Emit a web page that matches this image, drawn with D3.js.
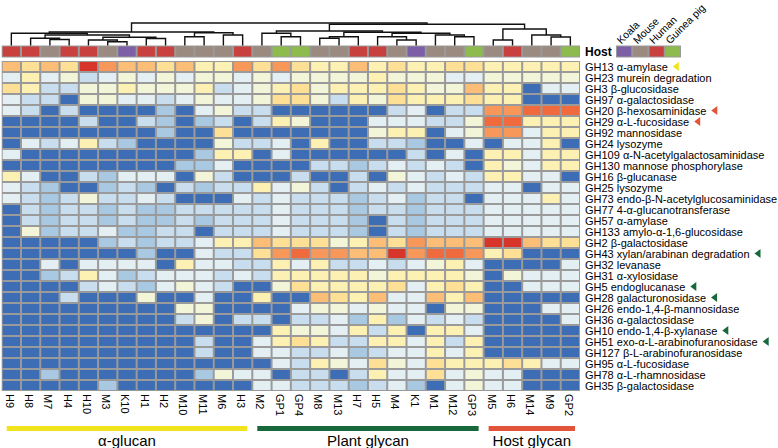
<!DOCTYPE html>
<html><head><meta charset="utf-8">
<script src="https://cdn.jsdelivr.net/npm/d3@7/dist/d3.min.js"></script>
<style>body{margin:0;background:#fff}svg{display:block}text{font-family:"Liberation Sans",Arial,sans-serif}</style>
</head><body><svg id="c" width="778" height="448"></svg>
<script>
const samples = ["H9","H8","M7","H4","H10","M3","K10","H1","H2","M10","M11","M6","H3","M2","GP1","GP4","M8","M13","H7","H5","M4","K1","M1","M12","GP3","M5","H6","M14","M9","GP2"];
const hosts = samples.map(s => s.startsWith("GP") ? "Guinea pig" : s[0]==="H" ? "Human" : s[0]==="M" ? "Mouse" : "Koala");
const hostNames = ["Koala","Mouse","Human","Guinea pig"];
const hostColors = ["#7d5fa8","#9b8a80","#c9413e","#8dbb4d"];
const families = ["GH13 α-amylase","GH23 murein degradation","GH3 β-glucosidase","GH97 α-galactosidase","GH20 β-hexosaminidase","GH29 α-L-fucosidase","GH92 mannosidase","GH24 lysozyme","GH109 α-N-acetylgalactosaminidase","GH130 mannose phosphorylase","GH16 β-glucanase","GH25 lysozyme","GH73 endo-β-N-acetylglucosaminidase","GH77 4-α-glucanotransferase","GH57 α-amylase","GH133 amylo-α-1,6-glucosidase","GH2 β-galactosidase","GH43 xylan/arabinan degradation","GH32 levanase","GH31 α-xylosidase","GH5 endoglucanase","GH28 galacturonosidase","GH26 endo-1,4-β-mannosidase","GH36 α-galactosidase","GH10 endo-1,4-β-xylanase","GH51 exo-α-L-arabinofuranosidase","GH127 β-L-arabinofuranosidase","GH95 α-L-fucosidase","GH78 α-L-rhamnosidase","GH35 β-galactosidase"];
const markers = {"GH13 α-amylase":"#f1e41c","GH20 β-hexosaminidase":"#e2543a","GH29 α-L-fucosidase":"#e2543a","GH43 xylan/arabinan degradation":"#17683a","GH5 endoglucanase":"#17683a","GH28 galacturonosidase":"#17683a","GH10 endo-1,4-β-xylanase":"#17683a","GH51 exo-α-L-arabinofuranosidase":"#17683a"};
// relative abundance level (0 = lowest ... 10 = highest)
const levels = [
[7,6,7,6,10,8,7,7,6,7,5,5, 8,6,8,6,5,5,7,5,6,5,5, 6,6,5,5,5,5,5],
[3,5,3,4,2,3,4,3,4,3,4,4, 3,4,3,4,4,4,4,5,4,4,4, 3,3,4,4,4,4,4],
[6,5,2,2,4,4,5,4,4,4,5,2, 3,4,5,6,4,5,5,5,6,5,4, 4,7,5,5,0,3,3],
[3,2,2,0,4,4,3,3,2,3,4,3, 3,4,6,6,4,2,5,4,6,5,5, 5,6,5,5,0,0,0],
[3,2,0,2,0,0,0,0,1,0,3,4, 2,2,0,0,0,0,0,0,2,3,0, 2,2,8,8,9,9,9],
[0,0,0,0,2,0,0,2,1,0,1,2, 0,2,5,4,0,0,0,3,3,3,2, 2,4,9,9,5,5,5],
[0,0,0,0,0,0,0,0,1,0,0,6, 0,0,0,0,0,0,0,4,5,5,0, 3,4,8,8,3,5,5],
[0,3,2,3,5,2,1,0,0,0,0,4, 2,2,3,0,5,0,0,2,2,1,0, 0,3,0,3,3,5,0],
[3,0,0,0,0,0,0,0,0,0,1,5, 5,0,3,0,0,0,0,0,0,2,0, 3,0,5,5,3,5,5],
[0,0,0,0,0,0,0,0,0,1,1,3, 0,0,0,0,2,2,1,2,3,2,3, 2,0,5,4,3,5,5],
[5,3,0,0,2,1,3,3,3,0,4,2, 0,0,0,2,0,0,2,0,4,3,2, 3,2,5,5,3,3,0],
[3,2,1,0,0,1,2,1,0,2,1,2, 2,5,3,4,2,0,2,3,2,3,2, 2,2,3,3,0,3,3],
[3,2,1,2,4,2,2,3,2,0,0,0, 3,2,3,2,2,2,1,2,3,1,2, 2,0,3,3,3,5,3],
[0,2,1,2,2,1,2,1,1,2,2,2, 2,2,3,2,2,2,1,2,2,1,2, 2,2,3,3,3,3,3],
[0,2,1,2,2,1,2,1,1,2,1,2, 2,2,3,2,2,2,1,0,2,1,2, 2,2,3,3,3,3,3],
[0,4,1,2,2,3,1,1,2,2,0,2, 2,2,3,2,2,2,1,0,2,1,2, 2,2,3,3,3,3,3],
[0,0,0,0,0,1,2,1,2,2,3,5, 5,7,6,6,6,4,5,7,6,8,7, 7,7,10,10,7,6,6],
[0,0,0,0,0,0,0,1,0,0,3,2, 2,6,8,9,8,8,7,7,10,8,9, 9,8,5,6,0,0,0],
[0,0,3,0,3,3,3,3,0,5,3,3, 2,2,5,3,5,2,2,3,2,3,4, 5,3,0,0,0,0,3],
[0,0,1,2,5,3,1,2,3,3,3,2, 3,2,5,5,5,5,5,4,5,5,5, 5,4,0,4,3,3,3],
[0,0,0,0,2,3,2,1,3,4,3,2, 0,0,4,6,5,5,5,5,6,3,5, 6,5,0,0,3,3,3],
[0,0,0,2,0,0,0,4,0,0,3,0, 0,5,0,0,7,6,5,7,3,3,7, 5,7,0,0,0,0,0],
[0,0,0,0,0,0,0,0,0,4,4,0, 0,0,0,3,4,4,3,4,3,3,0, 4,4,0,0,0,3,3],
[0,0,0,0,0,0,0,0,0,2,4,0, 2,2,0,2,2,3,1,5,1,3,2, 3,2,0,0,0,0,3],
[0,0,0,0,0,0,0,0,0,0,0,0, 0,0,5,4,4,3,5,2,5,0,5, 5,3,0,0,0,0,0],
[0,0,0,0,0,0,0,0,0,0,2,0, 0,3,5,6,5,2,2,5,5,3,5, 2,5,0,0,0,0,0],
[0,0,0,0,0,0,0,0,0,0,2,0, 0,3,3,2,2,3,1,2,3,3,5, 3,5,0,0,0,0,0],
[0,0,0,0,0,0,0,0,0,0,0,0, 0,0,3,2,5,4,3,6,4,3,6, 5,5,5,6,5,3,3],
[0,0,1,0,0,0,0,0,0,0,1,4, 3,3,0,2,2,0,2,5,3,3,6, 3,4,3,3,0,0,0],
[0,0,0,0,0,1,0,0,0,0,0,0, 0,3,3,2,2,2,1,2,3,1,0, 3,4,3,3,0,0,0]
];
const levelColors = ["#3d6db4","#a9c8e1","#c8dded","#e3eff3","#f2f5d8","#fcf0b3","#fddf96","#fcbe77","#f8975a","#ef6b3e","#d8352a"];
// sample dendrogram: [left, right, mergeHeight]
const dendro = [
  [["H9", [["H8", ["M7","H4",6], 7.2], [["H10", ["M3","K10",3.8], 5.5], ["H1","H2",7], 8.2], 10.5], 12.2],
   [["M10","M11",8.8], ["M6","H3",10.5], 12.8], 13.5],
  [[["M2", ["GP1","GP4",8.8], 12.2],
    [[["M8","M13",7.2], "H7", 8.8], [["H5", ["M4","K1",5.5], 8.8], ["M1", ["M12","GP3",8.8], 10.5], 12.2], 13.2], 14.5],
   [["M5","H6",5.5], ["M14", ["M9","GP2",8.5], 10.5], 16.5], 21.2], 22.5];
const groups = [{name:"α-glucan", from:"H9", to:"H3", color:"#f1e41c"},{name:"Plant glycan", from:"M2", to:"GP3", color:"#17683a"},{name:"Host glycan", from:"M5", to:"GP2", color:"#e2543a"}];

const svg = d3.select("#c");
const x = d3.scaleBand().domain(samples).range([1.7, 580]);
const y = d3.scaleBand().domain(families).range([61, 391]);
const hY = d3.scaleLinear().domain([0, 22.5]).range([45.5, 23]);
const col = d3.scaleOrdinal().domain(d3.range(levelColors.length)).range(levelColors);
const hostCol = d3.scaleOrdinal().domain(hostNames).range(hostColors);
const grid = "#9a9a9a";

// heatmap background
svg.append("rect").attr("x", x.range()[0]).attr("y", y.range()[0]).attr("width", x.range()[1]-x.range()[0]).attr("height", y.range()[1]-y.range()[0]).attr("fill", grid);
families.forEach((f, i) => {
  svg.append("g").selectAll("rect").data(levels[i]).join("rect")
    .attr("x", (d, j) => x(samples[j]) + 1).attr("y", y(f) + 1)
    .attr("width", x.bandwidth() - 2).attr("height", y.bandwidth() - 2)
    .attr("fill", d => col(d));
});
// host bar
svg.append("rect").attr("x", x.range()[0]).attr("y", 45.5).attr("width", x.range()[1]-x.range()[0]).attr("height", 12).attr("fill", grid);
svg.append("g").selectAll("rect").data(samples).join("rect")
  .attr("x", s => x(s) + 1).attr("y", 46.5).attr("width", x.bandwidth() - 2).attr("height", 10)
  .attr("fill", (s, j) => hostCol(hosts[j]));
svg.append("text").attr("x", 585).attr("y", 56).attr("font-size", 12).attr("font-weight", "bold").text("Host");
// host legend
const lx = d3.scaleBand().domain(hostNames).range([616, 681]);
svg.append("rect").attr("x", 616).attr("y", 45.5).attr("width", 65).attr("height", 12).attr("fill", grid);
svg.append("g").selectAll("rect").data(hostNames).join("rect")
  .attr("x", h => lx(h) + 1).attr("y", 46.5).attr("width", lx.bandwidth() - 2).attr("height", 10).attr("fill", h => hostCol(h));
svg.append("g").selectAll("text").data(hostNames).join("text")
  .attr("transform", h => `translate(${lx(h) + lx.bandwidth()/2 - 3},${44.5}) rotate(-45)`)
  .attr("font-size", 10.5).text(h => h);

// row labels
const lab = svg.append("g").selectAll("text").data(families).join("text")
  .attr("x", 585).attr("y", f => y(f) + y.bandwidth()/2 + 4).attr("font-size", 11).text(f => f);
lab.each(function(f) {
  if (!markers[f]) return;
  const w = this.getComputedTextLength();
  const cx = 585 + w + 5, cy = y(f) + y.bandwidth()/2;
  svg.append("path").attr("d", `M${cx},${cy} L${cx+6},${cy-4.5} L${cx+6},${cy+4.5}Z`).attr("fill", markers[f]);
});
// column labels
svg.append("g").selectAll("text").data(samples).join("text")
  .attr("transform", s => `translate(${x(s) + x.bandwidth()/2 - 5.5},${394}) rotate(90)`)
  .attr("font-size", 11).text(s => s);
// groups
groups.forEach(g => {
  const x0 = x(g.from) + 5, x1 = x(g.to) + x.bandwidth() - 5;
  svg.append("rect").attr("x", x0).attr("y", 426).attr("width", x1 - x0).attr("height", 5).attr("fill", g.color);
  svg.append("text").attr("x", (x0 + x1)/2).attr("y", 446).attr("text-anchor", "middle").attr("font-size", 15).text(g.name);
});
// dendrogram
const dg = svg.append("g").attr("fill", "none").attr("stroke", "#111").attr("stroke-width", 1.4);
function draw(node) {
  if (typeof node === "string") return {x: x(node) + x.bandwidth()/2, h: 0};
  const a = draw(node[0]), b = draw(node[1]), h = node[2];
  dg.append("path").attr("d", `M${a.x},${hY(a.h)}V${hY(h)}H${b.x}V${hY(b.h)}`);
  return {x: (a.x + b.x)/2, h};
}
draw(dendro);
</script></body></html>
